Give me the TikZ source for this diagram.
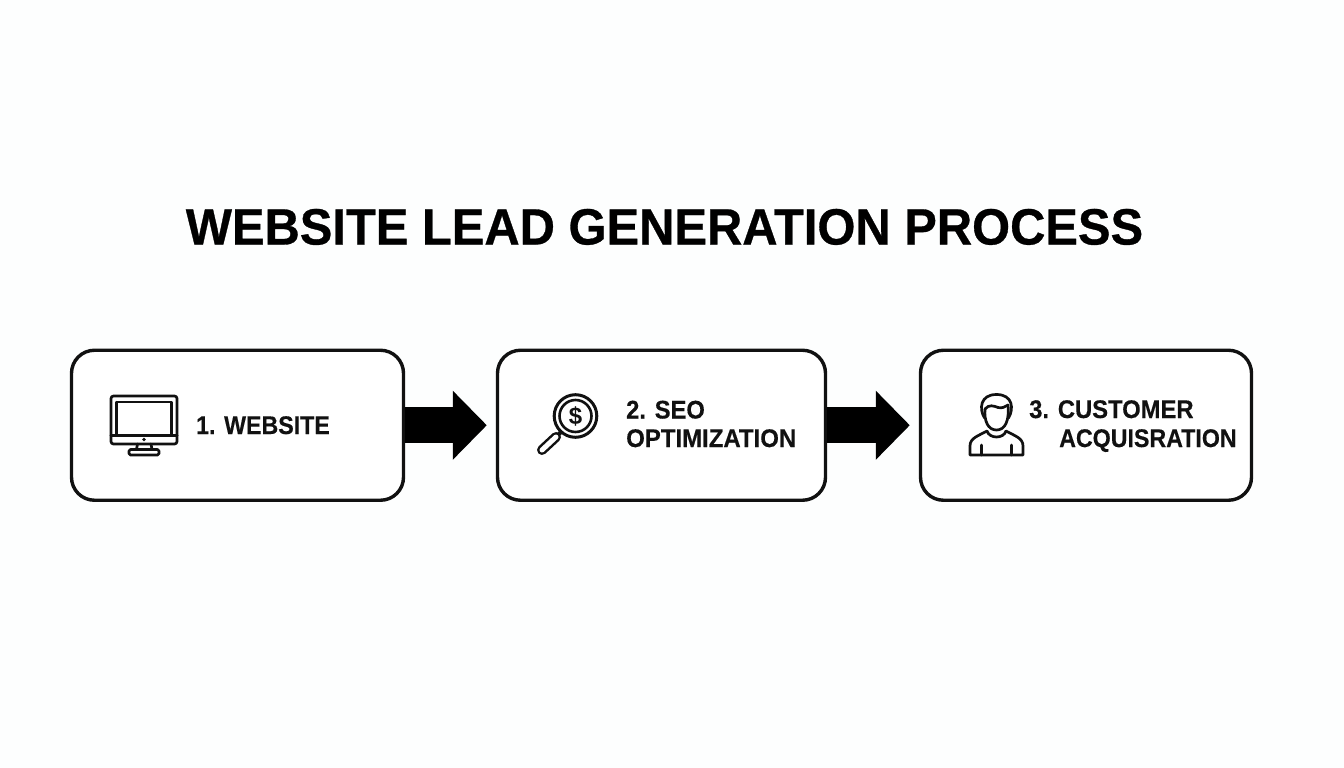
\documentclass[tikz,border=0pt]{standalone}
\usepackage{fontspec}
\setmainfont{Liberation Sans}
\newfontface\heavy[FakeBold=0.6]{Liberation Sans Bold}
\newfontface\heavylbl[FakeBold=0.3]{Liberation Sans Bold}
\usetikzlibrary{arrows.meta}
\definecolor{ink}{RGB}{17,17,17}
\definecolor{paper}{RGB}{253,254,254}
\newcommand{\narrowed}[2]{\scalebox{#1}[1]{#2}}
\tikzset{
  x=1pt,y=-1pt,
  stagebox/.style={draw=ink,line width=3.4pt,rounded corners=23pt,fill=white,minimum height=150pt,inner sep=0pt,outer sep=1.7pt},
  flowarrow/.style={draw=black,line width=36pt,shorten >=9pt,-{Triangle[length=34pt,width=67pt]}},
  lbl/.style={anchor=base west,inner sep=0pt,text=ink,font=\fontsize{25.5}{30}\heavylbl},
  icon/.style={draw=ink,line width=2.7pt,line join=round,line cap=round},
}
\begin{document}
\begin{tikzpicture}
\useasboundingbox (0,0) rectangle (1344,768);
\fill[paper] (0,0) rectangle (1344,768);
\node[anchor=base,inner sep=0pt,text=black,font=\fontsize{51}{60}\heavy] (title) at (664.5,244.5) {\narrowed{0.958}{WEBSITE LEAD GENERATION PROCESS}};

\node[stagebox,minimum width=332pt] (b1) at (237.5,425.25) {};
\node[stagebox,minimum width=328pt] (b2) at (661.5,425.25) {};
\node[stagebox,minimum width=331pt] (b3) at (1086,425.25) {};

\draw[flowarrow] (b1.east) -- (b2.west);
\draw[flowarrow] (b2.east) -- (b3.west);

\node[lbl] (l1) at (196,434) {\narrowed{0.91}{1. WEBSITE}};
\node[lbl] (l2a) at (626,418.5) {\narrowed{0.93}{2. SEO}};
\node[lbl] (l2b) at (626,447) {\narrowed{0.94}{OPTIMIZATION}};
\node[lbl] (l3a) at (1029,418) {\narrowed{0.933}{3. CUSTOMER}};
\node[lbl] (l3b) at (1059,447) {\narrowed{0.91}{ACQUISRATION}};

% monitor
\draw[icon,rounded corners=2.5pt] (111,396) rectangle (177,444);
\draw[icon,line width=2.2pt] (116.5,402) -- (171.5,402) -- (171.5,435) (116.5,435) -- (116.5,402);
\draw[icon,line width=3pt] (111,435) -- (177,435);
\fill[ink] (144,439.5) circle (1.8);
\draw[icon] (137.5,444) -- (136.5,449.5) (151,444) -- (152,449.5);
\draw[icon,rounded corners=1.5pt] (129,449.5) rectangle (159,455);

% magnifier
\draw[icon,line width=3pt] (575.5,416) circle (21.3);
\draw[icon,line width=2.6pt] (575.5,416) circle (16);
\node[inner sep=0pt,text=ink,font=\fontsize{24}{28}\selectfont\bfseries] (dollar) at (575.5,416.5) {\$};
\draw[ink,line width=10pt,line cap=round] (542,450) -- (556,437);
\draw[white,line width=5pt,line cap=round] (542,450) -- (556,437);
\draw[ink,line width=4pt] (558,435) -- (561.5,431.5);

% person
\draw[icon] (984.5,418) .. controls (979,409) and (980,394.5) .. (996.5,394.5)
  .. controls (1013,394.5) and (1014,409) .. (1008.5,418);
\draw[icon] (985,409) .. controls (989,404) and (994,406) .. (998,407.5)
  .. controls (1002,408.5) and (1005,407) .. (1008,405);
\draw[icon] (985,409) .. controls (984,421) and (988,430) .. (996.5,430)
  .. controls (1005,430) and (1009.5,421) .. (1008,405);
\draw[icon] (970,455) -- (970,446) .. controls (970,438) and (978,436) .. (987,431)
  .. controls (989.5,439) and (1003.5,439) .. (1006,431)
  .. controls (1015,436) and (1023,438) .. (1023,446) -- (1023,455) -- cycle;
\draw[icon] (981.5,455) -- (981.5,445) (1011.5,455) -- (1011.5,445);
\end{tikzpicture}
\end{document}
